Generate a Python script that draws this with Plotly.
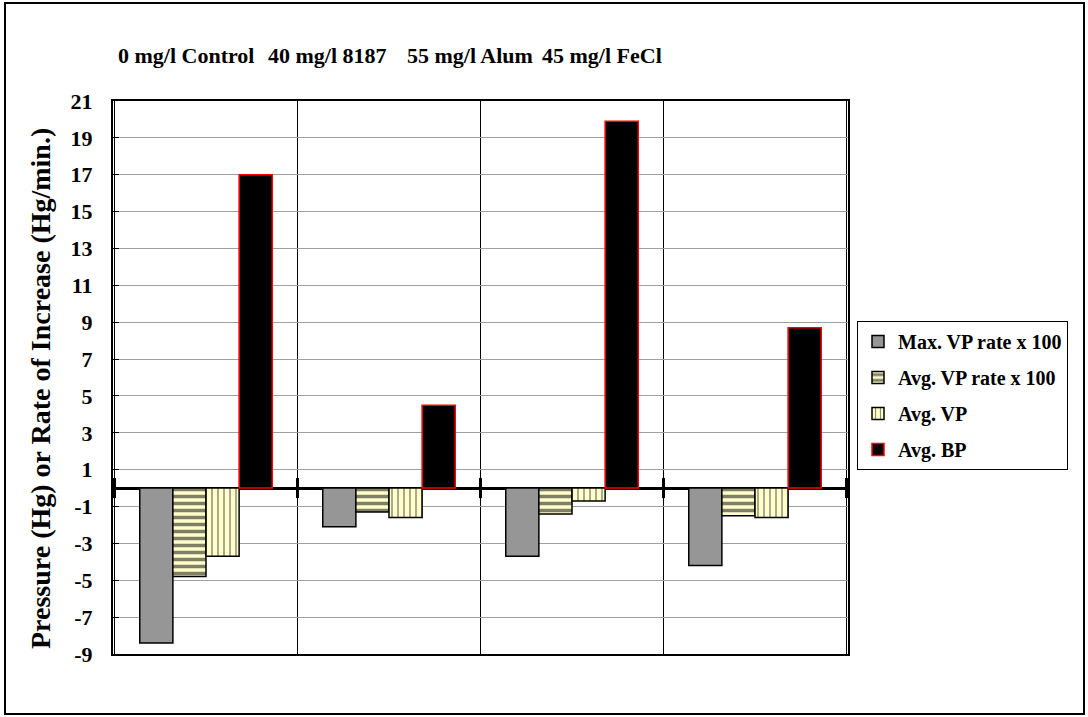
import plotly.graph_objects as go

# Treatment groups and measured values
groups = ["0 mg/l Control", "40 mg/l 8187", "55 mg/l Alum", "45 mg/l FeCl"]
max_vp_rate = [-8.4, -2.1, -3.7, -4.2]
avg_vp_rate = [-4.8, -1.3, -1.4, -1.5]
avg_vp = [-3.7, -1.6, -0.7, -1.6]
avg_bp = [17.0, 4.5, 19.9, 8.7]
y_ticks = list(range(-9, 22, 2))

FONT = "Liberation Serif, Times New Roman, serif"
CREAM = "#FFFFCC"

fig = go.Figure()
fig.add_trace(go.Bar(
    x=groups, y=max_vp_rate, name="<b>Max. VP rate x 100</b>", legendgroup="a",
    marker=dict(color="#969696", line=dict(color="black", width=1.5)),
))
fig.add_trace(go.Bar(
    x=groups, y=avg_vp_rate, name="<b>Avg. VP rate x 100</b>", legendgroup="b",
    marker=dict(color=CREAM, line=dict(color="black", width=1.5),
                pattern=dict(shape="-", fgcolor="black", size=7, solidity=0.5)),
))
fig.add_trace(go.Bar(
    x=groups, y=avg_vp, name="<b>Avg. VP</b>", legendgroup="c",
    marker=dict(color=CREAM, line=dict(color="black", width=1.5),
                pattern=dict(shape="|", fgcolor="black", size=6, solidity=0.22)),
))
fig.add_trace(go.Bar(
    x=groups, y=avg_bp, name="<b>Avg. BP</b>", legendgroup="d",
    marker=dict(color="black", line=dict(color="#FF0000", width=1.5)),
))

# Plot area geometry in pixels (used to place items outside the axes)
L, R, T, B = 113, 848, 101, 654
W, H = R - L, B - T


def px(xp):
    return (xp - L) / W


def py(yp):
    return (B - yp) / H


shapes = []
# outer chart frame
shapes.append(dict(type="rect", xref="paper", yref="paper",
                   x0=px(5), x1=px(1084), y0=py(714), y1=py(3),
                   line=dict(color="black", width=2), layer="below"))
# short thick ticks on the zero line at group boundaries
for b in range(len(groups) + 1):
    shapes.append(dict(type="line", xref="x", yref="y",
                       x0=b - 0.5, x1=b - 0.5, ysizemode="pixel", yanchor=0,
                       y0=-10, y1=10, line=dict(color="black", width=3)))

annotations = []
label_x = [116, 266, 405, 540]
for g, xp in zip(groups, label_x):
    annotations.append(dict(text=f"<b>{g}</b>", xref="paper", yref="paper",
                            x=px(xp), y=py(55), xanchor="left", yanchor="middle",
                            showarrow=False, font=dict(family=FONT, size=22, color="black")))
annotations.append(dict(text="<b>Pressure (Hg) or Rate of Increase (Hg/min.)</b>",
                        xref="paper", yref="paper", x=px(41), y=py(389),
                        xanchor="center", yanchor="middle", textangle=-90,
                        showarrow=False, font=dict(family=FONT, size=28, color="black")))

fig.update_layout(
    width=1088, height=717,
    margin=dict(l=L, r=1088 - R, t=T, b=717 - B),
    paper_bgcolor="white", plot_bgcolor="white",
    barmode="group", bargap=0.276, bargroupgap=0,
    font=dict(family=FONT, color="black"),
    showlegend=True,
    legend=dict(x=px(857), xanchor="left", y=py(470), yanchor="bottom",
                bordercolor="black", borderwidth=1, bgcolor="white",
                font=dict(family=FONT, size=20, color="black"),
                tracegroupgap=7, itemwidth=30),
    shapes=shapes, annotations=annotations,
)
fig.update_xaxes(
    showticklabels=False, ticks="", tickson="boundaries",
    showgrid=True, gridcolor="black", gridwidth=1,
    showline=True, linecolor="black", linewidth=1.5, mirror=True,
)
fig.update_yaxes(
    range=[-9, 21], tickvals=y_ticks, ticktext=[f"<b>{v}</b>" for v in y_ticks],
    tickfont=dict(family=FONT, size=22, color="black"),
    ticks="inside", ticklen=6, tickcolor="black", ticklabelstandoff=14,
    showgrid=True, gridcolor="#a0a0a0", gridwidth=1,
    zeroline=True, zerolinecolor="black", zerolinewidth=3,
    showline=True, linecolor="black", linewidth=2, mirror=True,
)

fig.write_html("out.html")
